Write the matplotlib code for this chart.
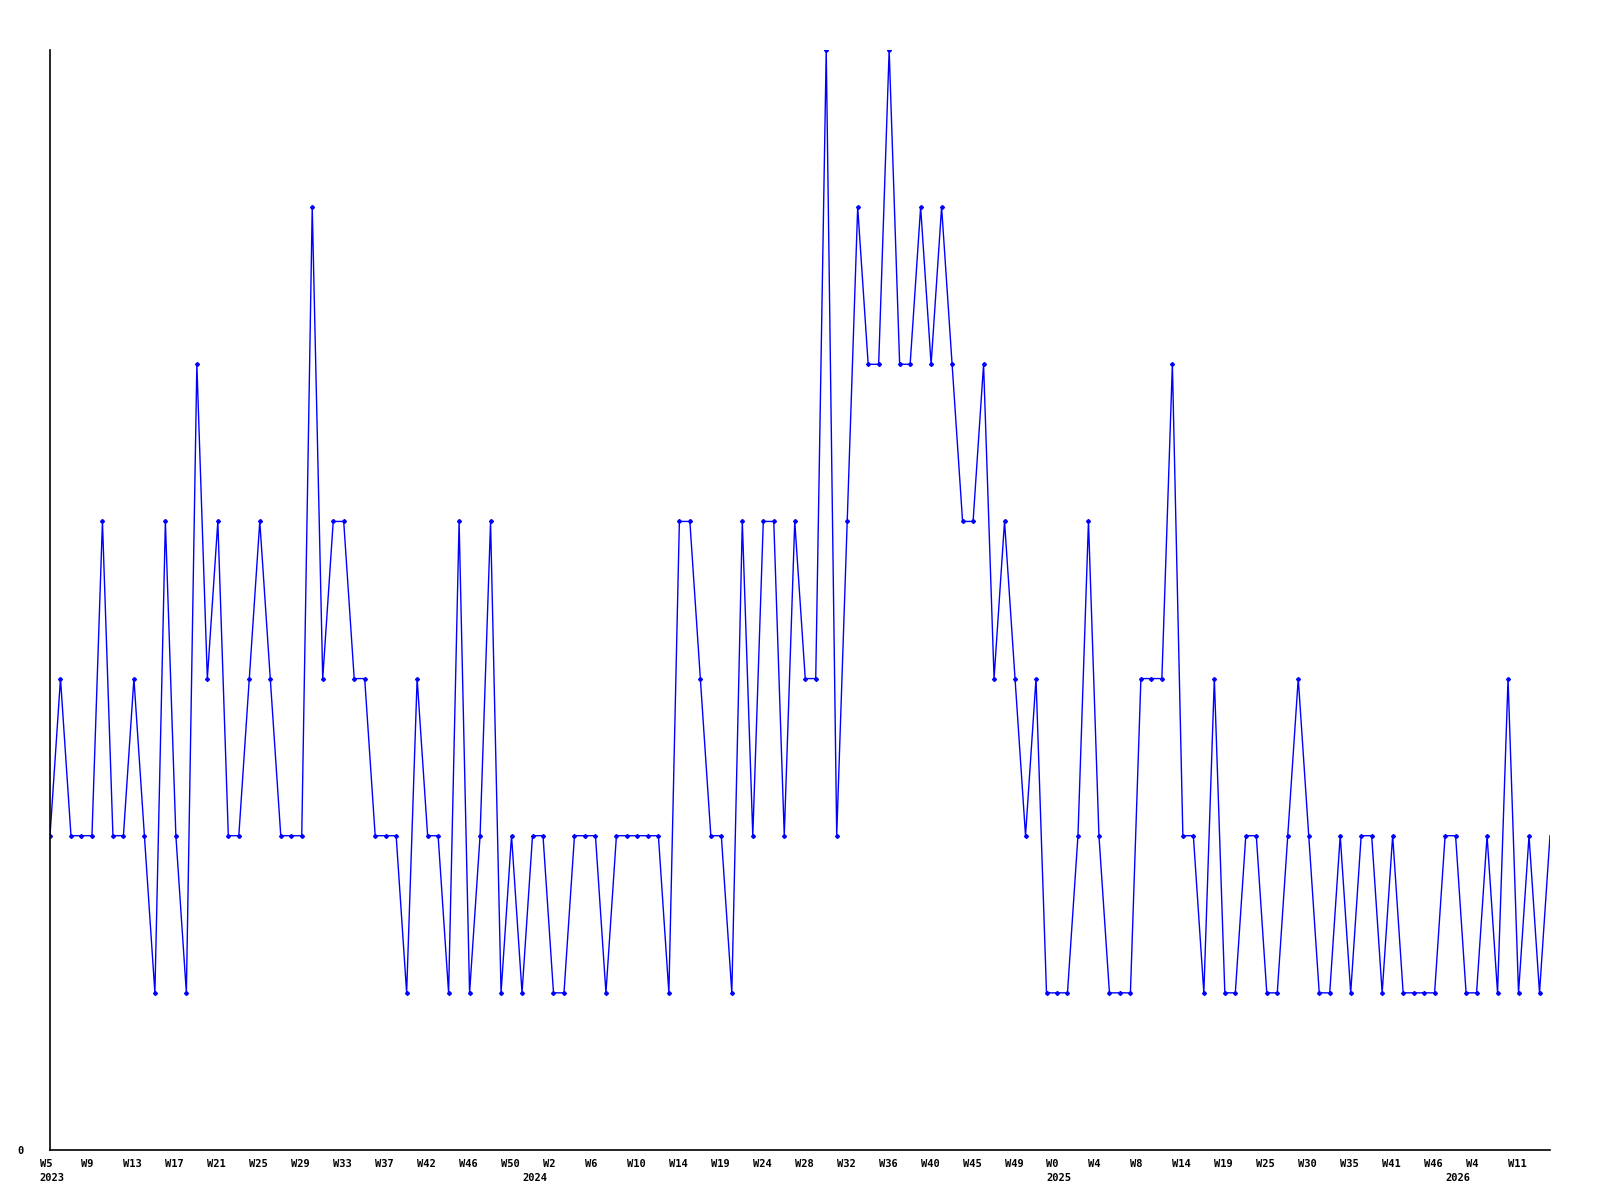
"""Weekly count chart, 2023 W5 .. 2026 W11."""

import matplotlib
matplotlib.use("Agg")
import matplotlib.pyplot as plt
import matplotlib.transforms as mtransforms
import numpy as np

# weekly values, one per point (144 points)
values = [
    2, 3, 2, 2, 2, 4, 2, 2, 3, 2, 1, 4, 2, 1, 5, 3, 4, 2, 2, 3,
    4, 3, 2, 2, 2, 6, 3, 4, 4, 3, 3, 2, 2, 2, 1, 3, 2, 2, 1, 4,
    1, 2, 4, 1, 2, 1, 2, 2, 1, 1, 2, 2, 2, 1, 2, 2, 2, 2, 2, 1,
    4, 4, 3, 2, 2, 1, 4, 2, 4, 4, 2, 4, 3, 3, 7, 2, 4, 6, 5, 5,
    7, 5, 5, 6, 5, 6, 5, 4, 4, 5, 3, 4, 3, 2, 3, 1, 1, 1, 2, 4,
    2, 1, 1, 1, 3, 3, 3, 5, 2, 2, 1, 3, 1, 1, 2, 2, 1, 1, 2, 3,
    2, 1, 1, 2, 1, 2, 2, 1, 2, 1, 1, 1, 1, 2, 2, 1, 1, 2, 1, 3,
    1, 2, 1, 2,
]

# week labels, every 4th point
week_labels = [
    "W5", "W9", "W13", "W17", "W21", "W25", "W29", "W33", "W37", "W42",
    "W46", "W50", "W2", "W6", "W10", "W14", "W19", "W24", "W28", "W32",
    "W36", "W40", "W45", "W49", "W0", "W4", "W8", "W14", "W19", "W25",
    "W30", "W35", "W41", "W46", "W4", "W11",
]
week_step = 4

# year labels and the point they sit under
year_labels = ["2023", "2024", "2025", "2026"]
year_points = [0, 46, 96, 134]

x = np.arange(len(values))

fig = plt.figure(figsize=(16, 12), dpi=100)
ax = fig.add_axes([50 / 1600, 50 / 1200, 1500 / 1600, 1100 / 1200])

ax.plot(x, values, color="#0000ff", linewidth=1.0, marker="D", markersize=2.0,
        markevery=list(range(len(values) - 1)))

ax.set_xlim(0, len(values) - 1)
ax.set_ylim(0, 7)

for side in ("top", "right"):
    ax.spines[side].set_visible(False)
for side in ("left", "bottom"):
    ax.spines[side].set_linewidth(1.2)
    ax.spines[side].set_color("black")

font = dict(family="DejaVu Sans Mono", weight="bold", size=7.5)

# year ticks share positions with week ticks, keep both
ax.xaxis.remove_overlapping_locs = False
ax.set_xticks(x[::week_step][: len(week_labels)], week_labels, **font)
ax.set_xticks(year_points, year_labels, minor=True, **font)
ax.tick_params(axis="x", which="major", length=0, pad=6.5)
ax.tick_params(axis="x", which="minor", length=0, pad=16.5)

shift = mtransforms.ScaledTranslation(-10.5 / 100, 0, fig.dpi_scale_trans)
for lab in ax.get_xticklabels(which="both"):
    lab.set_horizontalalignment("left")
    lab.set_transform(lab.get_transform() + shift)

ax.set_yticks([0], ["0"], **font)
ax.tick_params(axis="y", length=0, pad=19)

fig.savefig("out.png", dpi=100)
